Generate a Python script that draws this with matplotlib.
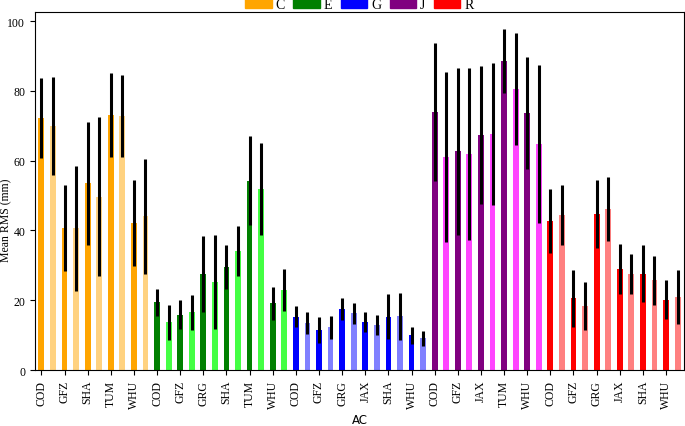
import numpy as np
import matplotlib
matplotlib.use("Agg")
import matplotlib.pyplot as plt
from matplotlib.patches import Patch

plt.rcParams["font.family"] = "serif"
plt.rcParams["font.serif"] = ["Liberation Serif", "DejaVu Serif"]

systems = ["C", "E", "G", "J", "R"]
dark_colors = ["#ffa500", "#008000", "#0000ff", "#800080", "#ff0000"]
light_colors = ["#ffd280", "#44ff44", "#8080ff", "#ff44ff", "#ff8080"]

acs = {
    "C": ["COD", "GFZ", "SHA", "TUM", "WHU"],
    "E": ["COD", "GFZ", "GRG", "SHA", "TUM", "WHU"],
    "G": ["COD", "GFZ", "GRG", "JAX", "SHA", "WHU"],
    "J": ["COD", "GFZ", "JAX", "TUM", "WHU"],
    "R": ["COD", "GFZ", "GRG", "JAX", "SHA", "WHU"],
}

# mean RMS (mm): first / second bar for each AC
mean_a = {
    "C": [72.3, 40.7, 53.5, 73.0, 42.1],
    "E": [19.4, 15.9, 27.5, 29.5, 54.3, 19.1],
    "G": [15.3, 11.4, 17.4, 13.8, 15.3, 9.9],
    "J": [74.0, 62.7, 67.3, 88.6, 73.7],
    "R": [42.7, 20.5, 44.7, 28.9, 27.6, 20.2],
}
mean_b = {
    "C": [69.9, 40.6, 49.7, 72.7, 44.0],
    "E": [13.7, 16.5, 25.2, 34.1, 51.8, 22.9],
    "G": [13.4, 12.2, 16.3, 13.0, 15.4, 9.1],
    "J": [61.0, 61.9, 67.6, 80.5, 64.8],
    "R": [44.4, 18.3, 46.2, 27.5, 25.7, 21.0],
}
std_a = {
    "C": [11.5, 12.3, 17.6, 12.0, 12.3],
    "E": [3.8, 4.2, 11.0, 6.4, 12.7, 4.8],
    "G": [3.0, 3.7, 3.2, 2.8, 6.5, 2.5],
    "J": [19.8, 23.9, 19.8, 9.1, 16.0],
    "R": [9.3, 8.2, 9.8, 7.1, 8.2, 5.6],
}
std_b = {
    "C": [14.0, 18.0, 22.8, 11.7, 16.4],
    "E": [5.0, 5.0, 13.4, 7.1, 13.2, 6.0],
    "G": [3.1, 3.4, 3.0, 2.9, 6.7, 2.1],
    "J": [24.4, 24.6, 20.4, 16.0, 22.7],
    "R": [8.7, 6.9, 9.2, 5.8, 7.1, 7.8],
}

fig = plt.figure(figsize=(6.85, 4.27), dpi=100)
ax = fig.add_axes([0.0511, 0.1311, 0.9474, 0.8385])

pos = 0
tick_pos = []
tick_lab = []
for s, dc, lc in zip(systems, dark_colors, light_colors):
    for i, ac in enumerate(acs[s]):
        ax.bar(pos, mean_a[s][i], width=0.5, color=dc)
        ax.errorbar(pos, mean_a[s][i], yerr=std_a[s][i], fmt="none",
                    ecolor="black", elinewidth=2.2, capsize=0)
        ax.bar(pos + 1, mean_b[s][i], width=0.5, color=lc)
        ax.errorbar(pos + 1, mean_b[s][i], yerr=std_b[s][i], fmt="none",
                    ecolor="black", elinewidth=2.2, capsize=0)
        tick_pos.append(pos)
        tick_lab.append(ac)
        pos += 2

ax.set_xticks(tick_pos)
ax.set_xticklabels(tick_lab, rotation=90, fontsize=8.5)
ax.tick_params(axis="y", labelsize=8.5)
ax.set_xlim(-0.55, pos - 1 + 0.55)
ax.set_ylim(0, 102.6)
ax.set_yticks([0, 20, 40, 60, 80, 100])
ax.set_ylabel("Mean RMS (mm)", fontsize=8.5)
ax.yaxis.set_label_coords(-0.0355, 0.422)
ax.set_xlabel("AC", fontsize=8.5, family="DejaVu Sans")

handles = [Patch(color=c, label=s) for s, c in zip(systems, dark_colors)]
ax.legend(handles=handles, loc="center", bbox_to_anchor=(0.5, 1.022), ncol=5,
          frameon=False, fontsize=10, handlelength=1.9, handletextpad=0.3,
          columnspacing=0.6, borderaxespad=0, borderpad=0)

fig.savefig("out.png", dpi=100)
